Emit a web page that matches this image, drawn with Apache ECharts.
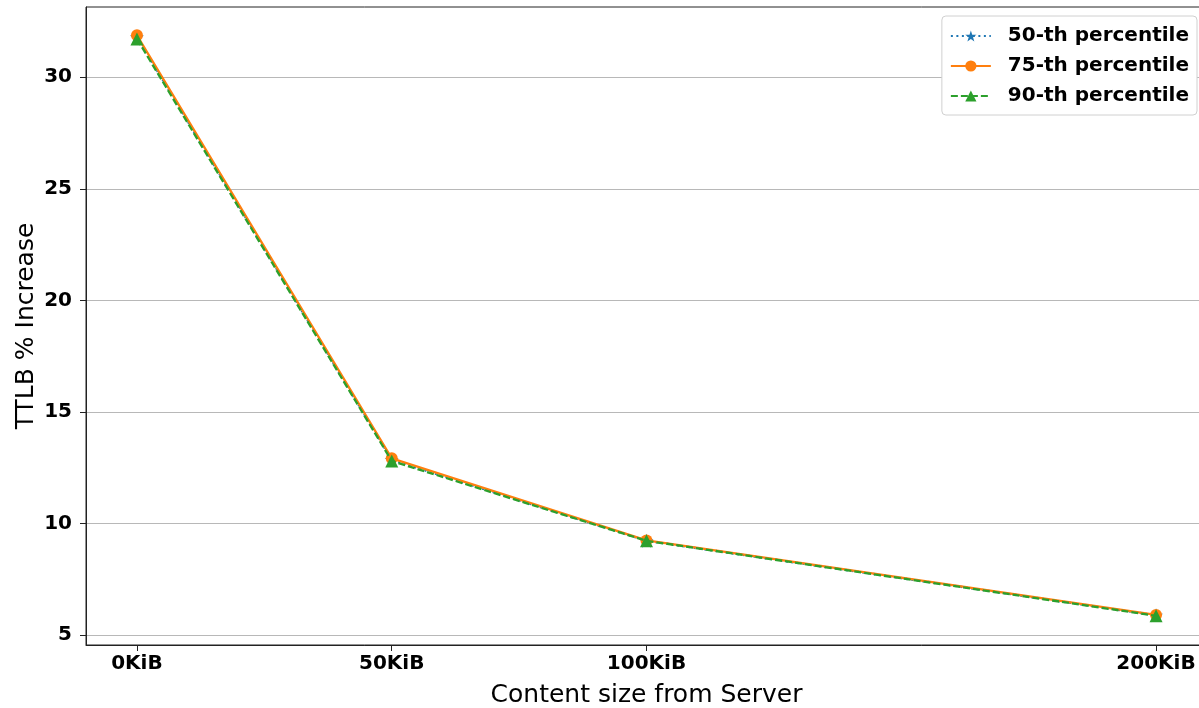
<!DOCTYPE html>
<html>
<head>
<meta charset="utf-8">
<script src="https://cdn.jsdelivr.net/npm/echarts@6/dist/echarts.min.js"></script>
<style>
html,body{margin:0;padding:0;background:#fff;}
#chart{width:1199px;height:708px;}
</style>
</head>
<body>
<div id="chart"></div>
<script>
// Data
const sizesKiB = [0, 50, 100, 200];
const xTicks = [0, 50, 100, 200];
const yTicks = [5, 10, 15, 20, 25, 30];
const p50 = [31.80, 12.85, 9.22, 5.88];
const p75 = [31.88, 12.92, 9.24, 5.90];
const p90 = [31.72, 12.80, 9.22, 5.86];
const seriesNames = ['50-th percentile', '75-th percentile', '90-th percentile'];

const FONT = 'DejaVu Sans';
const starPath = 'path://M50,0 L61.8,35.5 L99,35.5 L69,57.4 L80.4,92.7 L50,70.8 L19.6,92.7 L31,57.4 L1,35.5 L38.2,35.5 Z';

function pairs(vals){ return sizesKiB.map((x,i)=>[x, vals[i]]); }

const chart = echarts.init(document.getElementById('chart'), null, {renderer:'canvas'});
chart.setOption({
  animation: false,
  backgroundColor: '#ffffff',
  grid: {left: 86, right: -8, top: 7, bottom: 63, containLabel: false, outerBoundsMode: 'none',
         show: true, borderColor: '#222', borderWidth: 1},
  legend: {
    right: 2, top: 16, orient: 'vertical',
    backgroundColor: '#fff', borderColor: '#d0d0d0', borderWidth: 1, borderRadius: 4,
    padding: [9, 8, 8, 8], itemGap: 8, itemWidth: 40, itemHeight: 14,
    textStyle: {fontFamily: FONT, fontWeight: 'bold', fontSize: 20, color: '#000', lineHeight: 22, padding: [0,0,0,12]},
    data: seriesNames
  },
  xAxis: {
    type: 'value', min: -10, max: 210,
    name: 'Content size from Server', nameLocation: 'middle', nameGap: 38, nameMoveOverlap: false,
    nameTextStyle: {fontFamily: FONT, fontSize: 25, color: '#000'},
    axisLine: {show: true, onZero: false, lineStyle: {color: '#222', width: 1}},
    axisTick: {show: true, length: 6, lineStyle: {color: '#222', width: 1}, customValues: xTicks},
    axisLabel: {fontFamily: FONT, fontWeight: 'bold', fontSize: 20, color: '#000', margin: 9,
                customValues: xTicks, formatter: v => v + 'KiB'},
    splitLine: {show: false}
  },
  yAxis: {
    type: 'value', min: 4.55, max: 33.15,
    name: 'TTLB % Increase', nameLocation: 'middle', nameGap: 47, nameRotate: 90, nameMoveOverlap: false,
    nameTextStyle: {fontFamily: FONT, fontSize: 25, color: '#000'},
    axisLine: {show: true, onZero: false, lineStyle: {color: '#222', width: 1}},
    axisTick: {show: true, length: 6, lineStyle: {color: '#222', width: 1}, customValues: yTicks},
    axisLabel: {fontFamily: FONT, fontWeight: 'bold', fontSize: 20, color: '#000', margin: 14,
                customValues: yTicks},
    splitLine: {show: true, lineStyle: {color: '#b8b8b8', width: 1.1}}
  },
  series: [
    {name: seriesNames[0], type: 'line', data: pairs(p50), color: '#1f77b4',
     symbol: starPath, symbolSize: 14, showAllSymbol: true,
     lineStyle: {width: 2.3, type: [2, 3.5]}, itemStyle: {color: '#1f77b4'}, z: 2},
    {name: seriesNames[1], type: 'line', data: pairs(p75), color: '#ff7f0e',
     symbol: 'circle', symbolSize: 12,
     lineStyle: {width: 2.3, type: 'solid'}, itemStyle: {color: '#ff7f0e'}, z: 3},
    {name: seriesNames[2], type: 'line', data: pairs(p90), color: '#2ca02c',
     symbol: 'triangle', symbolSize: 13,
     lineStyle: {width: 2.3, type: [7, 3]}, itemStyle: {color: '#2ca02c'}, z: 4}
  ]
});
</script>
</body>
</html>
